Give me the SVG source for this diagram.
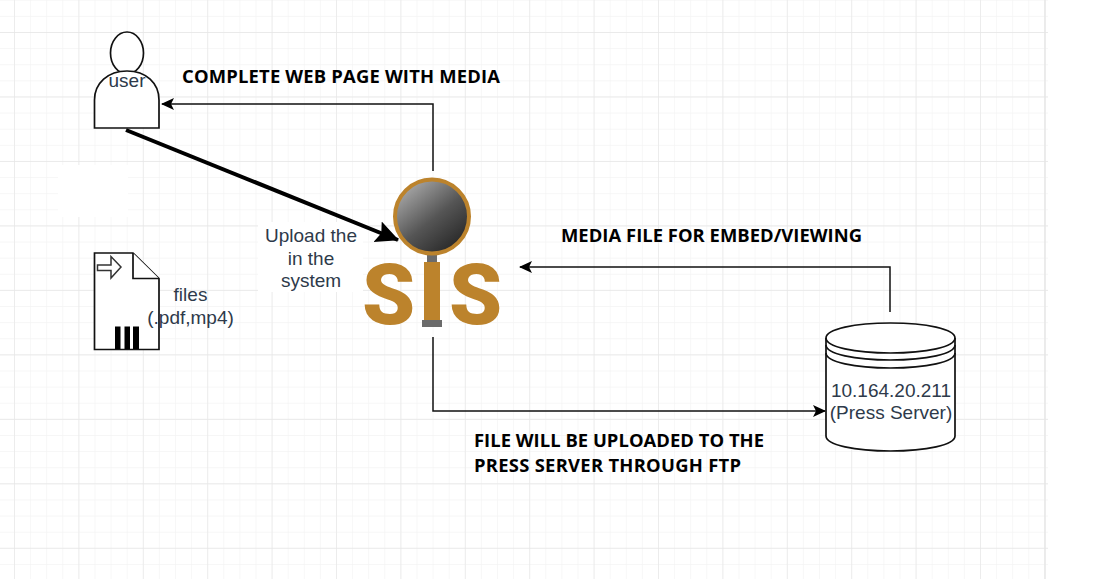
<svg xmlns="http://www.w3.org/2000/svg" width="1111" height="579" viewBox="0 0 1111 579">
<defs>
<pattern id="minor" width="16.1" height="16.12" x="14" y="32" patternUnits="userSpaceOnUse"><path d="M0 0V16.12M0 0H16.1" fill="none" stroke="#f3f3f3" stroke-width="1.3"/></pattern>
<pattern id="major" width="64.4" height="64.47" x="14" y="32" patternUnits="userSpaceOnUse"><path d="M0 0V64.47M0 0H64.4" fill="none" stroke="#e6e6e6" stroke-width="1.3"/></pattern>
<linearGradient id="lens" x1="0.15" y1="0.1" x2="0.8" y2="0.9"><stop offset="0" stop-color="#a6a6a6"/><stop offset="0.55" stop-color="#555"/><stop offset="1" stop-color="#2b2b2b"/></linearGradient>
<marker id="head" markerWidth="14" markerHeight="12" refX="12" refY="6" orient="auto" markerUnits="userSpaceOnUse"><path d="M0 0L13 6L0 12L3 6Z" fill="#000"/></marker>
<marker id="big" markerWidth="26" markerHeight="24" refX="22" refY="12" orient="auto" markerUnits="userSpaceOnUse"><path d="M0 1L23 12L0 23L4 12Z" fill="#000"/></marker>
</defs>
<style>
.shape{fill:#fff;stroke:#111;stroke-width:1.7}
.wire{fill:none;stroke:#111;stroke-width:1.5;marker-end:url(#head)}
.lbl{font-family:"Liberation Sans",Arial,sans-serif;font-size:19px;fill:#2e3a4a;text-anchor:middle}
.cap{font-family:"Open Sans","Liberation Sans",sans-serif;font-size:18.4px;font-weight:700;fill:#000}
.logo{font-family:Roboto,"Liberation Sans",sans-serif;font-weight:900;font-size:85px;fill:#bc832c}
</style>
<rect width="1111" height="579" fill="#fff"/>
<rect width="1048" height="579" fill="url(#minor)"/>
<rect width="1048" height="579" fill="url(#major)"/>
<path d="M1045 0V579" stroke="#e6e6e6" stroke-width="1.3"/>
<g fill="#fff">
<rect x="58" y="165" width="70" height="52"/>
<rect x="258" y="222" width="105" height="70"/>
</g>
<g id="connectors">
<path class="wire" d="M433 171V104H162"/>
<path d="M126 130L398 240" fill="none" stroke="#000" stroke-width="4" marker-end="url(#big)"/>
<path class="wire" d="M890 312V267H520"/>
<path class="wire" d="M433 337V411H825"/>
</g>
<g id="user">
<ellipse cx="127" cy="53" rx="16.5" ry="21" class="shape"/>
<path class="shape" d="M94.500 128V100C94.500 83 108 71 127 71S159 83 159 100V128Z"/>
<text x="127" y="87" class="lbl">user</text>
</g>
<g id="files">
<path class="shape" d="M94.500 253H133L159 278.500V349.500H94.500Z"/>
<path class="shape" d="M133 253V278.500H159"/>
<path d="M97.500 265H111V256.500L121 267L111 278V270.500H97.500Z" fill="#fff" stroke="#333" stroke-width="1.500"/>
<path d="M115 326.500H120.500V349H115ZM124.500 326.500H130V349H124.500ZM133 326.500H139V349H133Z" fill="#000"/>
<text x="190.500" y="301" class="lbl">files</text>
<text x="190.500" y="324" class="lbl">(.pdf,mp4)</text>
</g>
<g id="upload-label">
<text x="311" y="242" class="lbl">Upload the</text>
<text x="311" y="265" class="lbl">in the</text>
<text x="311" y="287" class="lbl">system</text>
</g>
<g id="sis">
<rect x="427" y="254" width="10" height="12" fill="#6b6b6b"/>
<circle cx="432" cy="216.500" r="37" fill="url(#lens)" stroke="#bc832c" stroke-width="4"/>
<text x="362" y="324" class="logo">S</text>
<rect x="424" y="262" width="16" height="60" fill="#bc832c"/>
<rect x="422" y="320" width="20" height="7" fill="#6b6b6b"/>
<text x="449" y="324" class="logo">S</text>
</g>
<g id="press-server">
<path class="shape" d="M826 338V436C826 445 855 451 890.500 451S955 445 955 436V338C955 329 926 323 890.500 323S826 329 826 338Z"/>
<path d="M826 338C826 347 855 353 890.500 353S955 347 955 338M826 345C826 354 855 360 890.500 360S955 354 955 345M826 353C826 362 855 368 890.500 368S955 362 955 353" fill="none" stroke="#111" stroke-width="1.700"/>
<text x="891" y="397" class="lbl">10.164.20.211</text>
<text x="891" y="419" class="lbl">(Press Server)</text>
</g>
<text x="182" y="82.500" class="cap" textLength="318">COMPLETE WEB PAGE WITH MEDIA</text>
<text x="561" y="241.500" class="cap" textLength="301">MEDIA FILE FOR EMBED/VIEWING</text>
<text x="474" y="446.500" class="cap" textLength="290">FILE WILL BE UPLOADED TO THE</text>
<text x="474" y="471.500" class="cap" textLength="267">PRESS SERVER THROUGH FTP</text>
</svg>
